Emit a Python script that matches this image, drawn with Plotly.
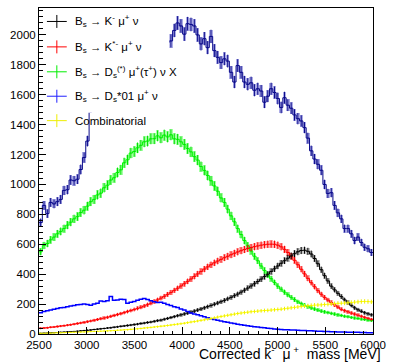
import numpy as np
import plotly.graph_objects as go

# ---- binning (100 bins of 35 MeV) ----
x_lo, x_hi, n_bins = 2500, 6000, 100

# ---- series values (counts per bin) ----
black_k = [5, 6, 7, 8, 9, 10, 12, 13, 14, 16,
           17, 19, 21, 23, 25, 27, 30, 32, 35, 37,
           40, 42, 45, 48, 51, 54, 57, 60, 63, 66,
           70, 73, 77, 80, 85, 89, 93, 99, 104, 110,
           116, 122, 128, 134, 140, 146, 153, 160, 167, 175,
           183, 191, 199, 207, 216, 225, 235, 245, 256, 267,
           280, 293, 307, 321, 336, 351, 367, 384, 400, 418,
           436, 455, 473, 490, 507, 522, 537, 550, 558, 560,
           553, 535, 505, 470, 430, 390, 355, 320, 295, 272,
           250, 228, 210, 192, 175, 162, 152, 142, 135, 128]

red_kstar = [38, 40, 42, 45, 47, 50, 53, 56, 59, 62,
             66, 70, 74, 78, 82, 87, 92, 97, 102, 107,
             112, 118, 124, 130, 136, 143, 150, 157, 164, 171,
             179, 187, 196, 206, 217, 228, 240, 252, 265, 278,
             292, 306, 321, 336, 352, 368, 385, 402, 418, 434,
             449, 463, 476, 488, 499, 510, 520, 530, 540, 549,
             557, 565, 572, 578, 584, 589, 594, 597, 600, 601,
             600, 594, 583, 566, 545, 520, 493, 463, 433, 402,
             372, 343, 316, 290, 266, 245, 227, 210, 195, 180,
             165, 156, 148, 140, 133, 126, 119, 112, 105, 98]

green_ds = [550, 592, 605, 630, 648, 670, 686, 705, 728, 748,
            770, 785, 812, 828, 855, 885, 900, 930, 942, 978,
            995, 1030, 1045, 1080, 1098, 1145, 1165, 1210, 1220, 1245,
            1262, 1285, 1290, 1305, 1306, 1325, 1312, 1330, 1318, 1332,
            1305, 1302, 1285, 1268, 1240, 1218, 1186, 1163, 1120, 1094,
            1060, 1025, 990, 955, 910, 880, 835, 790, 750, 705,
            665, 625, 590, 555, 520, 490, 455, 425, 395, 370,
            345, 320, 300, 280, 262, 245, 230, 215, 203, 192,
            183, 175, 167, 160, 153, 148, 143, 138, 133, 128,
            124, 119, 115, 111, 107, 104, 100, 97, 93, 90]

blue_ds01 = [142, 150, 155, 160, 165, 170, 175, 178, 183, 188,
             190, 195, 198, 200, 197, 192, 200, 205, 220, 218,
             222, 250, 225, 228, 232, 230, 205, 212, 218, 225,
             232, 238, 230, 222, 215, 210, 212, 205, 198, 190,
             183, 178, 168, 160, 150, 140, 133, 128, 122, 115,
             108, 102, 97, 92, 87, 82, 78, 74, 70, 66,
             62, 58, 55, 52, 49, 46, 43, 41, 38, 36,
             34, 32, 30, 29, 28, 27, 26, 25, 24, 23,
             22, 21, 20, 19, 18, 17, 16, 15, 15, 14,
             13, 13, 12, 12, 11, 11, 10, 10, 9, 9]

yellow_comb = [5, 5, 6, 6, 7, 8, 8, 9, 10, 11,
               12, 12, 13, 14, 15, 16, 17, 18, 19, 20,
               21, 22, 23, 25, 26, 28, 29, 31, 33, 35,
               37, 40, 42, 44, 47, 49, 52, 54, 57, 60,
               63, 66, 69, 72, 76, 80, 83, 87, 91, 95,
               99, 104, 108, 113, 117, 121, 125, 129, 133, 137,
               140, 143, 146, 149, 151, 153, 155, 157, 158, 160,
               162, 164, 166, 169, 172, 175, 178, 181, 184, 187,
               189, 191, 193, 194, 195, 197, 199, 201, 203, 205,
               206, 207, 209, 211, 213, 215, 217, 218, 217, 215]

navy_total = [745, 860, 805, 880, 870, 885, 900, 960, 965, 1030,
              1025, 1035, 1100, 1180, 1290, 1520, 1560, 1600, 1630, 1660,
              1690, 1720, 1740, 1770, 1790, 1810, 1830, 1850, 1860, 1880,
              1890, 1900, 1910, 1920, 1930, 1940, 1945, 1950, 1950, 1960,
              2030, 2080, 2060, 2005, 2075, 2070, 2060, 2000, 1940, 1975,
              1915, 1990, 1895, 1850, 1815, 1840, 1825, 1750, 1685, 1795,
              1750, 1685, 1670, 1680, 1630, 1640, 1625, 1550, 1590, 1640,
              1615, 1575, 1515, 1580, 1530, 1510, 1465, 1440, 1425, 1380,
              1310, 1225, 1170, 1135, 1095, 1000, 940, 945, 860, 810,
              770, 705, 705, 670, 625, 648, 612, 580, 570, 545]

legend_labels = [
    "B<sub>s</sub> → K<sup>-</sup> μ<sup>+</sup> ν",
    "B<sub>s</sub> → K<sup>*-</sup> μ<sup>+</sup> ν",
    "B<sub>s</sub> → D<sub>s</sub><sup>(*)</sup> μ<sup>+</sup>(τ<sup>+</sup>) ν X",
    "B<sub>s</sub> → D<sub>s</sub>*01 μ<sup>+</sup> ν",
    "Combinatorial",
]
x_title = "Corrected k<sup>-</sup>\u00a0 μ<sup>\u00a0+</sup>\u00a0 mass [MeV]"

for arr in (black_k, red_kstar, green_ds, blue_ds01, yellow_comb, navy_total):
    assert len(arr) == n_bins

edges = np.linspace(x_lo, x_hi, n_bins + 1)
centers = 0.5 * (edges[:-1] + edges[1:])
bw = edges[1] - edges[0]

FONT = "Liberation Sans, Arial, Helvetica, sans-serif"

# series: values, line colour, line width, band colour (or None), errbar colour (or None)
series = [
    (navy_total, "#0a0a8a", 1, "rgba(70,70,200,0.45)", "#0a0a8a"),
    (green_ds, "#00ff00", 1, "rgba(0,255,0,0.35)", "#00e000"),
    (red_kstar, "#ff0000", 1, "rgba(255,0,0,0.30)", "#ff0000"),
    (black_k, "#000000", 1, "rgba(0,0,0,0.22)", "#000000"),
    (blue_ds01, "#0000ff", 1.5, None, None),
    (yellow_comb, "#ffff00", 1, None, "#eeee00"),
]

fig = go.Figure()

# error bands (E2 boxes)
for vals, lc, lw, band, ec in series:
    if band is None:
        continue
    v = np.array(vals, dtype=float)
    err = np.sqrt(v)
    fig.add_trace(go.Bar(x=centers, y=2 * err, base=v - err, width=bw,
                         marker=dict(color=band, line=dict(width=0)),
                         showlegend=False, hoverinfo="skip"))

# step lines and error bars
for vals, lc, lw, band, ec in series:
    v = np.array(vals, dtype=float)
    fig.add_trace(go.Scatter(x=edges, y=np.append(v, v[-1]), mode="lines",
                             line=dict(color=lc, width=lw, shape="hv"),
                             showlegend=False, hoverinfo="skip"))
    if ec is not None:
        fig.add_trace(go.Scatter(x=centers, y=v, mode="markers",
                                 marker=dict(size=1, color=ec),
                                 error_y=dict(type="data", array=np.sqrt(v), width=0,
                                              thickness=1, color=ec),
                                 showlegend=False, hoverinfo="skip"))

# plot geometry (pixels)
W, H = 393, 364
ml, mr, mt, mb = 39, 17, 7, 30
pw, ph = W - ml - mr, H - mt - mb


def px(xp):
    return (xp - ml) / pw


def py(yp):
    return (H - mb - yp) / ph


shapes = [
    # opaque legend box region hiding what lies underneath
    dict(type="rect", xref="x", yref="y", x0=3000, x1=3865, y0=1480, y1=2174,
         fillcolor="white", line=dict(width=0), layer="above"),
]
annotations = []
leg_colors = ["#000000", "#ff0000", "#00ee00", "#2020ff", "#eeee00"]
leg_y = [20.5, 46, 71, 95.5, 120]
for lab, col, yc in zip(legend_labels, leg_colors, leg_y):
    shapes.append(dict(type="line", xref="paper", yref="paper",
                       x0=px(47), x1=px(67), y0=py(yc), y1=py(yc),
                       line=dict(color=col, width=1), layer="above"))
    shapes.append(dict(type="line", xref="paper", yref="paper",
                       x0=px(57), x1=px(57), y0=py(yc - 6.5), y1=py(yc + 6.5),
                       line=dict(color=col, width=1), layer="above"))
    annotations.append(dict(text=lab, xref="paper", yref="paper",
                            x=px(73), y=py(yc), xanchor="left", yanchor="middle",
                            showarrow=False, font=dict(family=FONT, size=11.5, color="black")))

annotations.append(dict(text=x_title,
                        xref="paper", yref="paper", x=px(386), y=py(364),
                        xanchor="right", yanchor="bottom", showarrow=False,
                        font=dict(family=FONT, size=14, color="black")))

fig.update_layout(
    width=W, height=H, autosize=False,
    margin=dict(l=ml, r=mr, t=mt, b=mb, pad=0),
    paper_bgcolor="white", plot_bgcolor="white",
    barmode="overlay", bargap=0, showlegend=False,
    shapes=shapes, annotations=annotations,
    font=dict(family=FONT, size=11.5, color="black"),
)
fig.update_xaxes(range=[x_lo, x_hi], tick0=2500, dtick=500, ticks="inside", ticklen=7,
                 tickcolor="black", showline=True, linecolor="black", linewidth=1,
                 mirror=True, showgrid=False, zeroline=False,
                 minor=dict(dtick=100, ticks="inside", ticklen=3.5, tickcolor="black", showgrid=False),
                 tickfont=dict(family=FONT, size=11.5, color="black"))
fig.update_yaxes(range=[0, 2180], tick0=0, dtick=200, ticks="inside", ticklen=7,
                 tickcolor="black", showline=True, linecolor="black", linewidth=1,
                 mirror=True, showgrid=False, zeroline=False,
                 minor=dict(dtick=40, ticks="inside", ticklen=3.5, tickcolor="black", showgrid=False),
                 tickfont=dict(family=FONT, size=11.5, color="black"))

fig.write_html("out.html")
